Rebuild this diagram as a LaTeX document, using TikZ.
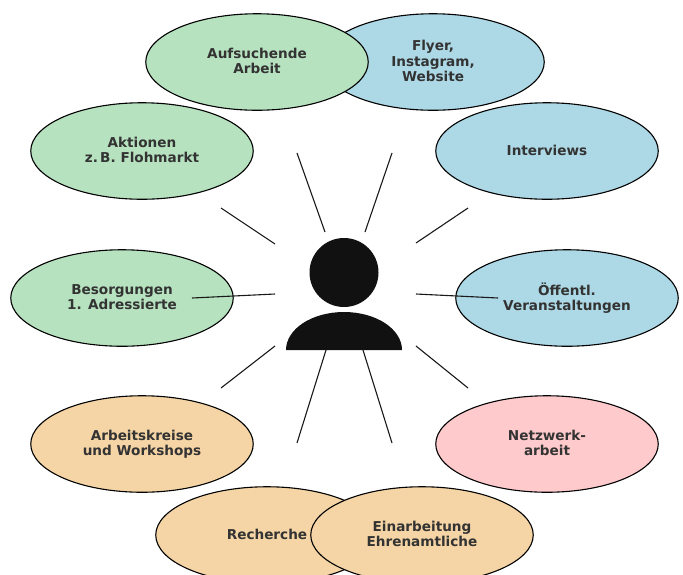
\documentclass[tikz,border=0pt]{standalone}
\usepackage{fontspec}
\setmainfont{DejaVu Sans}
\usetikzlibrary{shapes.geometric}
\definecolor{cgreen}{HTML}{B6E2BF}
\definecolor{cblue}{HTML}{ADD8E6}
\definecolor{corange}{HTML}{F5D5A5}
\definecolor{cpink}{HTML}{FFCACB}
\definecolor{ctext}{HTML}{333333}
\definecolor{cfig}{HTML}{111111}
\newcommand\blobtext[1]{\raisebox{-1.1pt}[\height][\depth]{\begin{tabular}{@{}c@{}}#1\end{tabular}}}
\tikzset{
  x=1pt,y=-1pt,
  blob/.style={ellipse,draw=black,line width=1.1pt,minimum width=222.5pt,minimum height=96.5pt,inner sep=0pt,
    font=\bfseries\fontsize{13.6}{15.4}\selectfont,text=ctext},
  spoke/.style={draw=black!90,line width=1.1pt},
}
\begin{document}
\begin{tikzpicture}
\useasboundingbox (0,0) rectangle (683,574);
\clip (0,0) rectangle (683,574);
\node[blob,fill=cblue] (flyer) at (433,62) {\blobtext{Flyer,\\Instagram,\\Website}};
\node[blob,fill=cgreen] (aufs) at (257,62) {\blobtext{Aufsuchende\\Arbeit}};
\node[blob,fill=cgreen] (akt) at (142,151) {\blobtext{Aktionen\\z.\,B. Flohmarkt}};
\node[blob,fill=cblue] (inter) at (547,151) {\blobtext{Interviews}};
\node[blob,fill=cgreen] (bes) at (122,298) {\blobtext{Besorgungen\\1. Adressierte}};
\node[blob,fill=cblue] (oeff) at (567,298) {\blobtext{Öffentl.\\Veranstaltungen}};
\node[blob,fill=corange] (ak) at (142,444) {\blobtext{Arbeitskreise\\und Workshops}};
\node[blob,fill=cpink] (netz) at (547,444) {\blobtext{Netzwerk-\\arbeit}};
\node[blob,fill=corange] (rech) at (267,535) {\blobtext{Recherche}};
\node[blob,fill=corange] (einarb) at (422,535) {\blobtext{Einarbeitung\\Ehrenamtliche}};
% person
\node[circle,fill=cfig,minimum size=69pt,inner sep=0pt] (head) at (344,272.5) {};
\fill[cfig] (286,350) arc[start angle=180,end angle=0,x radius=58,y radius=-38] -- cycle;
\coordinate (body) at (344,350);
% spoke ends
\foreach \n/\x/\y in {a1/297/153,a2/325/232,b1/392/153,b2/365/232,c1/221/208,c2/275/244,d1/468/208,d2/416/243,
  e1/192/298,e2/275/294,f1/498/298,f2/416/294,g1/221/388,g2/275/346,h1/468/388,h2/416/346,
  i1/297/443,i2/326/350,j1/392/443,j2/363/350}{\coordinate (\n) at (\x,\y);}
\foreach \n in {a,b,c,d,e,f,g,h,i,j}{\draw[spoke] (\n1) -- (\n2);}
\end{tikzpicture}
\end{document}
